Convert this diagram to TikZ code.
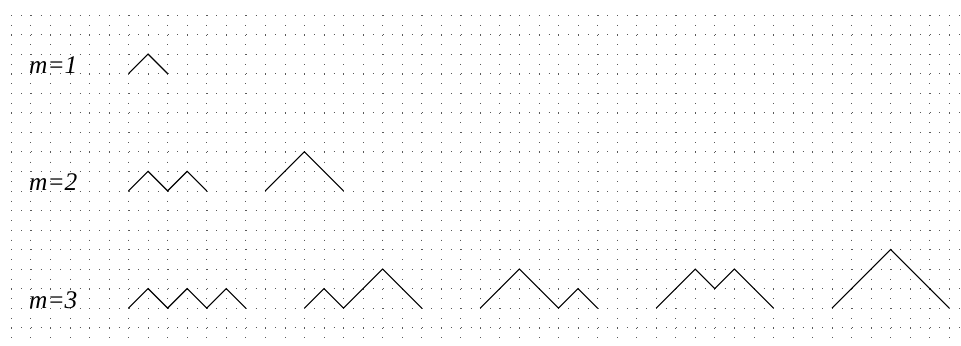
\documentclass[tikz,border=0pt]{standalone}
\usepackage{fontspec}
\setmainfont{Liberation Serif}
\begin{document}
\begin{tikzpicture}[x=0.5cm,y=0.5cm,
  griddots/.style={draw=black!65,line width=0.5pt,dash pattern=on 0.5pt off 6.613pt},
  mountain/.style={draw=black,line width=0.8pt,line join=miter},
  mlabel/.style={anchor=base west,inner sep=0pt,font=\fontsize{18.5}{21}\selectfont\itshape}]
\useasboundingbox (-0.578,0.768) rectangle (48.60,-16.888);
\begin{scope}
\clip (-0.578,0.768) rectangle (48.60,-16.888);
\foreach \c in {0,...,48} \draw[griddots] (\c,0) -- (\c,-17.5);
\foreach \r in {0,...,17} \draw[griddots] (0,-\r) -- (48.5,-\r);
\end{scope}
% m=1
\node[mlabel] (l1) at (0.9,-3) {m=1};
\draw[mountain] (6,-3) -- ++(1,1) -- ++(1,-1);
% m=2
\node[mlabel] (l2) at (0.9,-9) {m=2};
\draw[mountain] (6,-9) -- ++(1,1) -- ++(1,-1) -- ++(1,1) -- ++(1,-1);
\draw[mountain] (13,-9) -- ++(1,1) -- ++(1,1) -- ++(1,-1) -- ++(1,-1);
% m=3
\node[mlabel] (l3) at (0.9,-15) {m=3};
\draw[mountain] (6,-15) -- ++(1,1) -- ++(1,-1) -- ++(1,1) -- ++(1,-1) -- ++(1,1) -- ++(1,-1);
\draw[mountain] (15,-15) -- ++(1,1) -- ++(1,-1) -- ++(1,1) -- ++(1,1) -- ++(1,-1) -- ++(1,-1);
\draw[mountain] (24,-15) -- ++(1,1) -- ++(1,1) -- ++(1,-1) -- ++(1,-1) -- ++(1,1) -- ++(1,-1);
\draw[mountain] (33,-15) -- ++(1,1) -- ++(1,1) -- ++(1,-1) -- ++(1,1) -- ++(1,-1) -- ++(1,-1);
\draw[mountain] (42,-15) -- ++(1,1) -- ++(1,1) -- ++(1,1) -- ++(1,-1) -- ++(1,-1) -- ++(1,-1);
\end{tikzpicture}
\end{document}
